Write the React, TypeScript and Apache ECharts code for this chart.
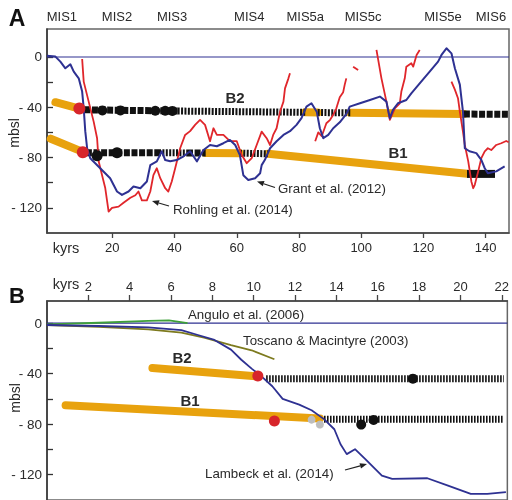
import React, { useEffect, useRef } from "react";
import * as echarts from "echarts";

// ---------- tick labels ----------
const misLabels = ["MIS1", "MIS2", "MIS3", "MIS4", "MIS5a", "MIS5c", "MIS5e", "MIS6"];
const misKyr = [3.8, 21.5, 39.2, 64, 82, 100.6, 126.3, 141.7];
const xTicksA = [20, 40, 60, 80, 100, 120, 140];
const xTicksB = [2, 4, 6, 8, 10, 12, 14, 16, 18, 20, 22];
const yTicks = [-120, -100, -80, -60, -40, -20, 0];
const yLabels = [-120, -80, -40, 0];

// ---------- panel A curves ----------
const grantA: number[][] = [
  [-1, 1], [1.7, 0.3], [3.3, -3.7], [4.9, -9], [6.5, -5.8], [7.6, -11.7], [9.2, -17], [10.3, -27.5],
  [10.8, -40.8], [11.3, -59], [11.9, -72.6], [12.9, -80.5], [16.1, -88.5], [19.3, -96.4], [21.5, -107],
  [23.1, -109.7], [25.2, -107], [26.8, -103], [29, -104.4], [31.1, -99], [32.2, -86], [34.3, -83],
  [35.9, -75], [37, -82], [38.6, -83], [40.7, -82], [42.9, -79], [45, -75], [47.2, -83], [49.3, -74],
  [51.4, -70], [53.6, -71], [55.7, -68.6], [57.8, -66], [59.5, -70], [61, -78], [62.1, -94],
  [63.7, -97.8], [65.9, -96.4], [67.5, -92.5], [68, -86], [69, -82], [70.7, -72.6], [72.8, -67],
  [75, -62], [77.1, -59], [79.2, -54], [80.8, -48.7], [82.4, -39.5], [84, -36.8], [85.7, -43.5],
  [86.7, -56.7], [87.8, -64.6], [89.4, -62], [91, -56.7], [93.1, -52], [95.3, -45], [96.3, -39.5],
  [99.6, -36.8], [102.8, -34.2], [106, -31.5], [108.1, -35.5], [109.2, -48.7], [110.2, -42],
  [111.8, -36.8], [114.5, -34.2], [116.1, -28.9], [118.8, -21], [122, -11.7], [124.7, -3.7],
  [125.8, 1.6], [127.4, 6.9], [129, 2.9], [130.1, -9], [131.7, -22], [132.7, -43.5], [133.3, -72.6],
  [134.8, -75], [137, -76.5], [138.6, -81.9], [139.7, -88.5], [140.7, -92.5], [143.4, -91], [146.1, -87],
];
const rohlingA1: number[][] = [
  [10.3, -1.6], [10.8, -19.6], [12.4, -35.5], [14, -51.4], [15.1, -64.6], [15.6, -83], [16.7, -94],
  [17.7, -104], [18.8, -123], [19.9, -120], [22, -119], [23.6, -116], [25.8, -112], [27.4, -110],
  [28.4, -107], [29.5, -114], [31.1, -114], [32.2, -107], [33.2, -94], [34.3, -88.5], [35.4, -96.4],
  [37, -104.4], [38, -107], [39.1, -99], [40.2, -88.5], [41.8, -72.6], [43.4, -62], [45, -59],
  [46.6, -54], [48.2, -50], [49.8, -54], [51.4, -67], [52.5, -56.7], [53.6, -62], [55.7, -62],
  [57.8, -67], [60, -67], [61.6, -78], [63.2, -84.5], [64.8, -80.5], [66.4, -70], [68, -59.4],
  [69.6, -64.6], [70.7, -70], [71.7, -62], [72.8, -56.7], [73.9, -43.5], [75, -35.5], [75.5, -25],
  [76.6, -17], [77.1, -13],
];
const rohlingA2: number[][] = [
  [85.2, -67], [86.2, -60], [87.3, -63], [88.8, -52.7], [90, -50], [91, -46], [92, -40.8],
  [93.1, -32], [94.2, -28], [94.7, -22], [95.2, -17],
];
const rohlingA3: number[][] = [[97.4, -7.7], [99, -10.4]];
const rohlingA4: number[][] = [
  [104.9, 5.6], [106.5, -17], [108.1, -35.5], [109.2, -50], [110.8, -40.8], [112.4, -36.8],
  [112.9, -27.5], [114, -17], [114.5, -7.7], [116.1, -5], [116.7, -7.7], [117.8, 1.6], [118.8, 5.6],
];
const rohlingA5: number[][] = [
  [129, -19.6], [130.1, -26], [131.1, -32.8], [131.7, -43.5], [132.7, -59.4], [133.3, -70],
  [134.4, -83], [135.4, -99], [136, -104.4], [136.5, -101.7], [137.6, -91], [138.6, -80.5],
  [139.7, -75], [140.7, -72.6], [141.8, -74], [143.4, -70], [145, -68.6], [146.6, -66.8], [147.4, -67.8],
];
const zeroA: number[][] = [[-1, 0], [147.5, 0]];

// panel A: B2 / B1 markers
const b2OrangeA: number[][][] = [
  [[1.7, -36], [9.4, -41]],
  [[82, -44], [86, -44.2]],
  [[96.5, -44.4], [133, -45.4]],
];
const b2HeavyA: number[][][] = [
  [[11, -42], [41, -43]],
  [[133, -45.4], [147.5, -45.6]],
];
const b2StripeA: number[][][] = [
  [[41, -43], [82, -44]],
  [[86, -44.2], [96.5, -44.4]],
];
const b2RedA: number[][] = [[9.4, -41]];
const b2DotsA: number[][] = [[16.8, -42.5], [22.6, -42.5], [33.8, -42.8], [37, -42.8], [39.3, -42.9]];

const b1OrangeA: number[][][] = [
  [[0.2, -65], [10.5, -75.5]],
  [[50, -76.3], [61, -76.5]],
  [[70, -77], [134, -92.8]],
];
const b1HeavyA: number[][][] = [
  [[11.5, -76.2], [35, -76.2]],
  [[44, -76.3], [50, -76.3]],
];
const b1StripeA: number[][][] = [
  [[35, -76.2], [44, -76.3]],
  [[61, -76.5], [70, -77]],
];
const b1BarA: number[][] = [[134, -93], [143, -93]];
const b1RedA: number[][] = [[10.5, -75.8]];
const b1DotsA: number[][] = [[15.1, -78.5], [21.5, -76.2]];

// ---------- panel B curves ----------
const anguloB: number[][] = [[0, -1], [2.5, 0.3], [4.9, 1.8], [5.9, 2.2], [6.4, 1], [6.8, 0]];
const toscanoB: number[][] = [
  [0, -1.5], [2.5, -3], [4.9, -5], [6.5, -7.5], [7.6, -11.5], [8.9, -17.5], [9.9, -21.5], [11, -28.6],
];
const lambeckB: number[][] = [
  [0, -1.5], [2.5, -2.3], [4.9, -3.3], [6.5, -5.5], [7.3, -9.4], [8.1, -13.3], [8.9, -21], [9.4, -29],
  [9.9, -36], [10.4, -42.5], [10.9, -50], [11.4, -60], [12.2, -64.5], [12.8, -69], [13.4, -76],
  [13.9, -84], [14.2, -95.9], [14.5, -103.7], [14.9, -99.8], [15.4, -107.6], [16.2, -120.7],
  [16.7, -123.3], [18.4, -122.8], [19.4, -128.6], [20.5, -135.1], [21.3, -135.1], [22.2, -133.8],
];
const zeroB: number[][] = [[0, 0], [22.27, 0]];
const b2OrangeB: number[][] = [[5.1, -35.5], [10.1, -42]];
const b2StripeB: number[][] = [[10.6, -44], [22.1, -44]];
const b2RedB: number[][] = [[10.2, -41.8]];
const b2DotsB: number[][] = [[17.7, -44]];
const b1OrangeB: number[][] = [[0.9, -65], [13.2, -75.5]];
const b1StripeB: number[][] = [[13.4, -76], [22.1, -76]];
const b1RedB: number[][] = [[11, -77.4]];
const b1GreyB: number[][] = [[12.8, -76.4], [13.2, -80.3]];
const b1DotsB: number[][] = [[15.2, -80.3], [15.8, -76.6]];

// ---------- styling ----------
const FONT = "'Liberation Sans', Arial, Helvetica, sans-serif";
const ORANGE = "#E8A20E";
const NAVY = "#2E3192";
const RED = "#E0262B";
const DOTRED = "#D7252B";
const TXT = "#2a2a2a";

function line(data: number[][], color: string, width: number, g: number, opts: any = {}) {
  return {
    type: "line",
    xAxisIndex: g === 0 ? 0 : 2,
    yAxisIndex: g,
    data,
    symbol: "none",
    silent: true,
    z: opts.z ?? 3,
    lineStyle: { color, width, type: opts.dash ?? "solid", cap: opts.cap ?? "butt", join: "round" },
  };
}
function dots(data: number[][], color: string, size: number, g: number, z = 10) {
  return {
    type: "scatter",
    xAxisIndex: g === 0 ? 0 : 2,
    yAxisIndex: g,
    data,
    symbol: "circle",
    symbolSize: size,
    silent: true,
    z,
    itemStyle: { color, opacity: 1 },
  };
}
function txt(x: number, y: number, text: string, o: any = {}) {
  return {
    type: "text",
    x,
    y,
    rotation: o.rotation ?? 0,
    z: 50,
    style: {
      text,
      fontSize: o.size ?? 13.3,
      fontWeight: o.weight ?? "normal",
      fontFamily: FONT,
      fill: o.fill ?? TXT,
      align: o.align ?? "left",
      verticalAlign: "middle",
    },
  };
}
function arrow(x1: number, y1: number, x2: number, y2: number) {
  const dx = x2 - x1, dy = y2 - y1;
  const L = Math.sqrt(dx * dx + dy * dy);
  const ux = dx / L, uy = dy / L;
  const hl = 7, hw = 2.8;
  const bx = x2 - ux * hl, by = y2 - uy * hl;
  return [
    { type: "line", z: 50, shape: { x1, y1, x2: bx, y2: by }, style: { stroke: "#222", lineWidth: 1.2 } },
    {
      type: "polygon",
      z: 50,
      shape: { points: [[x2, y2], [bx - uy * hw, by + ux * hw], [bx + uy * hw, by - ux * hw]] },
      style: { fill: "#222" },
    },
  ];
}
const fmtY = (v: number) => (v === 0 ? "0" : "- " + Math.abs(v));
const fmtMis = (v: number) => {
  let best = 0;
  misKyr.forEach((k, i) => { if (Math.abs(k - v) < Math.abs(misKyr[best] - v)) best = i; });
  return misLabels[best];
};

function yAxisDef(g: number, max: number) {
  return {
    gridIndex: g,
    type: "value",
    min: -140,
    max,
    axisLine: { show: true, onZero: false, lineStyle: { color: "#333", width: 1.5 } },
    axisTick: { show: true, inside: true, length: 6, customValues: yTicks, lineStyle: { color: "#333", width: 1.3 } },
    axisLabel: { customValues: yLabels, formatter: fmtY, margin: 5, fontSize: 13.5, color: TXT, fontFamily: FONT },
    splitLine: { show: false },
  };
}

export default function App() {
  const ref = useRef<HTMLDivElement>(null);
  useEffect(() => {
    if (!ref.current) return;
    const chart = echarts.init(ref.current, undefined, { renderer: "svg" });
    const series: any[] = [];
    // panel A
    series.push(line(zeroA, NAVY, 1.2, 0, { z: 2 }));
    b1OrangeA.forEach((d) => series.push(line(d, ORANGE, 8, 0, { cap: "round", z: 4 })));
    b2OrangeA.forEach((d) => series.push(line(d, ORANGE, 8, 0, { cap: "round", z: 4 })));
    b1HeavyA.forEach((d) => series.push(line(d, "#111", 7, 0, { dash: [6, 1.6], z: 5 })));
    b2HeavyA.forEach((d) => series.push(line(d, "#111", 7, 0, { dash: [6, 1.6], z: 5 })));
    b1StripeA.forEach((d) => series.push(line(d, "#111", 7, 0, { dash: [2, 1.4], z: 5 })));
    b2StripeA.forEach((d) => series.push(line(d, "#111", 7, 0, { dash: [2, 1.4], z: 5 })));
    series.push(line(b1BarA, "#111", 8, 0, { z: 5 }));
    [rohlingA1, rohlingA2, rohlingA3, rohlingA4, rohlingA5].forEach((d) => series.push(line(d, RED, 1.8, 0, { z: 6 })));
    series.push(line(grantA, NAVY, 2, 0, { z: 7 }));
    series.push(dots(b2RedA, DOTRED, 12, 0));
    series.push(dots(b1RedA, DOTRED, 12, 0));
    series.push(dots(b2DotsA, "#111", 10, 0));
    series.push(dots(b1DotsA, "#111", 11, 0));
    // panel B
    series.push(line(zeroB, NAVY, 1.2, 1, { z: 2 }));
    series.push(line(anguloB, "#3FA03A", 1.8, 1, { z: 6 }));
    series.push(line(toscanoB, "#7D7A1E", 1.8, 1, { z: 6 }));
    series.push(line(b2OrangeB, ORANGE, 8, 1, { cap: "round", z: 4 }));
    series.push(line(b1OrangeB, ORANGE, 8, 1, { cap: "round", z: 4 }));
    series.push(line(b2StripeB, "#111", 7, 1, { dash: [1.6, 1.4], z: 5 }));
    series.push(line(b1StripeB, "#111", 7, 1, { dash: [1.6, 1.4], z: 5 }));
    series.push(line(lambeckB, NAVY, 1.8, 1, { z: 7 }));
    series.push(dots(b2RedB, DOTRED, 11, 1));
    series.push(dots(b1RedB, DOTRED, 11, 1));
    series.push(dots(b1GreyB, "#BDBDBD", 8, 1));
    series.push(dots(b2DotsB, "#111", 10, 1));
    series.push(dots(b1DotsB, "#111", 10, 1));

    const graphic: any[] = [
      txt(17, 18, "A", { size: 23, weight: "bold", align: "center", fill: "#111" }),
      txt(17, 295, "B", { size: 22, weight: "bold", align: "center", fill: "#111" }),
      txt(66, 248, "kyrs", { size: 14.5, align: "center" }),
      txt(66, 284, "kyrs", { size: 14.5, align: "center" }),
      txt(14, 133, "mbsl", { size: 14, align: "center", rotation: Math.PI / 2 }),
      txt(15, 398, "mbsl", { size: 14, align: "center", rotation: Math.PI / 2 }),
      txt(235, 97, "B2", { size: 15, weight: "bold", align: "center" }),
      txt(398, 152, "B1", { size: 15, weight: "bold", align: "center" }),
      txt(182, 357, "B2", { size: 15, weight: "bold", align: "center" }),
      txt(190, 400, "B1", { size: 15, weight: "bold", align: "center" }),
      txt(173, 209, "Rohling et al. (2014)"),
      txt(278, 188, "Grant et al. (2012)"),
      txt(188, 314, "Angulo et al. (2006)"),
      txt(243, 340, "Toscano & Macintyre (2003)"),
      txt(205, 473, "Lambeck et al. (2014)"),
      ...arrow(169, 206, 152, 201),
      ...arrow(275, 187.5, 257, 181.5),
      ...arrow(345, 470, 367, 464),
    ];

    chart.setOption({
      animation: false,
      textStyle: { fontFamily: FONT },
      grid: [
        { left: 47, top: 29, width: 462, height: 204, show: true, borderColor: "#666", borderWidth: 1.5 },
        { left: 47, top: 301, width: 462, height: 200.8, show: true, borderColor: "#666", borderWidth: 1.5 },
      ],
      xAxis: [
        {
          gridIndex: 0, type: "value", min: -1, max: 147.5, position: "bottom",
          axisLine: { show: true, onZero: false, lineStyle: { color: "#444", width: 1.5 } },
          axisTick: { show: true, length: 5, customValues: xTicksA, lineStyle: { color: "#444", width: 1.3 } },
          axisLabel: { customValues: xTicksA, margin: 8, fontSize: 13, color: TXT, fontFamily: FONT },
          splitLine: { show: false },
        },
        {
          gridIndex: 0, type: "value", min: -1, max: 147.5, position: "top",
          axisLine: { show: false, onZero: false }, axisTick: { show: false },
          axisLabel: { customValues: misKyr, formatter: fmtMis, margin: 6, fontSize: 13, color: TXT, fontFamily: FONT },
          splitLine: { show: false },
        },
        {
          gridIndex: 1, type: "value", min: 0, max: 22.27, position: "top",
          axisLine: { show: true, onZero: false, lineStyle: { color: "#444", width: 1.5 } },
          axisTick: { show: true, length: 6, customValues: xTicksB, lineStyle: { color: "#444", width: 1.3 } },
          axisLabel: { customValues: xTicksB, margin: 8, fontSize: 13, color: TXT, fontFamily: FONT },
          splitLine: { show: false },
        },
      ],
      yAxis: [yAxisDef(0, 22.25), yAxisDef(1, 17.5)],
      series,
      graphic,
    });
    return () => chart.dispose();
  }, []);
  return <div ref={ref} style={{ position: "fixed", left: 0, top: 0, width: 512, height: 500 }} />;
}
